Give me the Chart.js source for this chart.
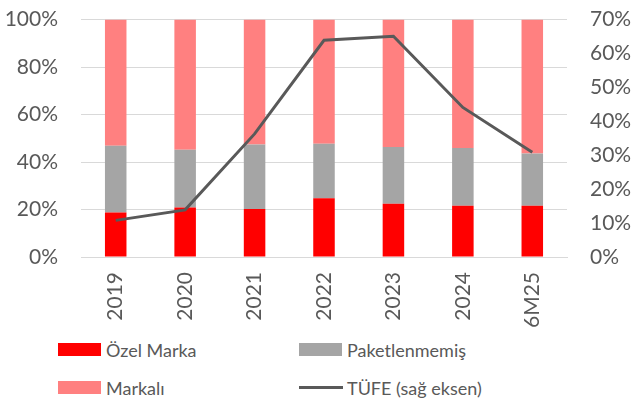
<!DOCTYPE html>
<html>
<head>
<meta charset="utf-8">
<script src="https://cdn.jsdelivr.net/npm/chart.js@4/dist/chart.umd.min.js"></script>
<style>
  html, body { margin: 0; padding: 0; background: #fff; }
  body { width: 631px; height: 404px; position: relative; overflow: hidden; font-family: Lato, "Open Sans", sans-serif; }
  #wrap { position: absolute; left: 0; top: -16px; width: 631px; height: 346px; }
  .leg { position: absolute; display: flex; align-items: center; color: #595959; font-size: 18px; white-space: nowrap; }
  .sw { width: 43px; height: 13px; margin-right: 5px; }
  .ln { width: 44px; height: 3px; margin-right: 4px; }
</style>
</head>
<body>
<div id="wrap"><canvas id="c" width="631" height="346"></canvas></div>
<div id="legend"></div>
<script>
const categories = ["2019", "2020", "2021", "2022", "2023", "2024", "6M25"];
const ozelMarka = [18.7, 20.9, 20.2, 24.7, 22.4, 21.6, 21.6];
const paketlenmemis = [28.2, 24.3, 27.2, 23.0, 23.9, 24.3, 22.0];
const markali = [53.1, 54.8, 52.6, 52.3, 53.7, 54.1, 56.4];
const tufe = [10.8, 13.9, 36.3, 63.9, 65.1, 44.1, 30.9];
const leftTicks = [0, 20, 40, 60, 80, 100];
const rightTicks = [0, 10, 20, 30, 40, 50, 60, 70];

const textColor = "#595959";
const font = { family: "Lato, 'Open Sans', sans-serif", size: 21 };

const datasets = [
  { type: "bar", label: "Özel Marka", data: ozelMarka, backgroundColor: "#FF0000", yAxisID: "y", order: 1 },
  { type: "bar", label: "Paketlenmemiş", data: paketlenmemis, backgroundColor: "#A5A5A5", yAxisID: "y", order: 1 },
  { type: "bar", label: "Markalı", data: markali, backgroundColor: "#FF8080", yAxisID: "y", order: 1 },
  { type: "line", label: "TÜFE (sağ eksen)", data: tufe, borderColor: "#595959", borderWidth: 3, pointRadius: 0, tension: 0, fill: false, yAxisID: "y1", order: 0 }
];
datasets.forEach(d => { if (d.type === "bar") { d.barPercentage = 0.31; d.categoryPercentage = 1; d.stack = "s"; } });

const chart = new Chart(document.getElementById("c"), {
  data: { labels: categories, datasets },
  options: {
    responsive: false,
    animation: false,
    layout: { padding: { top: 0, left: 0, right: 0, bottom: 0 } },
    plugins: { legend: { display: false }, tooltip: { enabled: false } },
    scales: {
      x: {
        stacked: true,
        grid: { display: false, drawTicks: false },
        border: { display: true, color: "#D9D9D9", width: 1 },
        ticks: { color: textColor, font, maxRotation: 90, minRotation: 90, padding: 15 },
        afterFit: s => { s.height = 73; }
      },
      y: {
        position: "left",
        stacked: true,
        min: 0, max: 100,
        afterBuildTicks: s => { s.ticks = leftTicks.map(v => ({ value: v })); },
        grid: { color: "#D9D9D9", lineWidth: 1, drawTicks: false },
        border: { display: false },
        ticks: { color: textColor, font, padding: 23, callback: v => v + "%" },
        afterFit: s => { s.width = 81; }
      },
      y1: {
        position: "right",
        min: 0, max: 70,
        afterBuildTicks: s => { s.ticks = rightTicks.map(v => ({ value: v })); },
        grid: { display: false, drawTicks: false },
        border: { display: false },
        ticks: { color: textColor, font, padding: 23, callback: v => v + "%" },
        afterFit: s => { s.width = 64; }
      }
    }
  }
});

// legend built from dataset labels/colours
const legendPos = [
  { left: 58, top: 340 },
  { left: 299, top: 340 },
  { left: 58, top: 378 },
  { left: 299, top: 378 }
];
const lg = document.getElementById("legend");
datasets.forEach((d, i) => {
  const item = document.createElement("div");
  item.className = "leg";
  item.style.left = legendPos[i].left + "px";
  item.style.top = legendPos[i].top + "px";
  item.style.height = "19px";
  const sw = document.createElement("div");
  if (d.type === "line") { sw.className = "ln"; sw.style.background = d.borderColor; }
  else { sw.className = "sw"; sw.style.background = d.backgroundColor; }
  const t = document.createElement("span");
  t.textContent = d.label;
  item.appendChild(sw); item.appendChild(t);
  lg.appendChild(item);
});
</script>
</body>
</html>
